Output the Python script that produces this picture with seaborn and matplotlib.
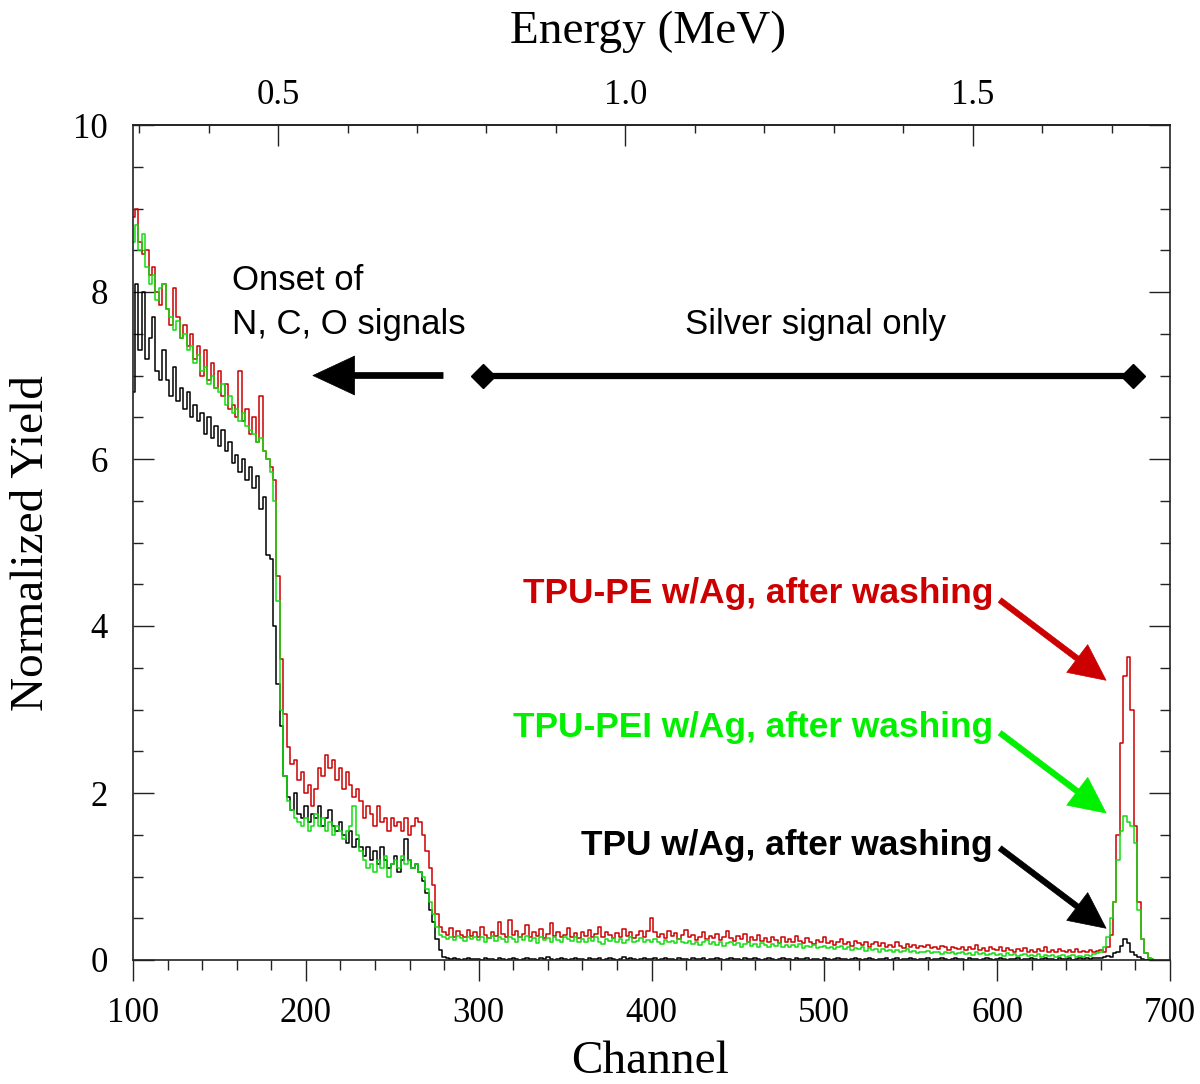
import numpy as np
import pandas as pd
import matplotlib
matplotlib.use("Agg")
import matplotlib.pyplot as plt
from matplotlib.ticker import MultipleLocator, FixedLocator, FixedFormatter
import seaborn as sns

# ---------------- data (channel step = 2) ----------------
channel_start = 100
channel_step = 2

tpu_pe = [  # red: TPU-PE w/Ag, after washing
    8.90, 9.00, 8.60, 8.45, 8.50, 8.20, 8.30, 8.00, 7.85, 8.10,   # 100-118
    7.80, 7.60, 8.05, 7.70, 7.45, 7.60, 7.35, 7.50, 7.20, 7.35,   # 120-138
    7.00, 7.30, 6.95, 7.15, 6.85, 7.05, 6.75, 6.90, 6.60, 6.65,   # 140-158
    6.50, 7.05, 6.45, 6.60, 6.30, 6.50, 6.20, 6.75, 6.10, 6.00,   # 160-178
    5.90, 5.75, 4.60, 3.60, 2.95, 2.55, 2.35, 2.40, 2.15, 2.25,   # 180-198
    2.00, 2.10, 1.85, 2.05, 2.30, 2.20, 2.45, 2.30, 2.40, 2.15,   # 200-218
    2.30, 2.05, 2.25, 2.10, 1.95, 2.05, 1.90, 1.70, 1.85, 1.75,   # 220-238
    1.60, 1.85, 1.65, 1.70, 1.55, 1.70, 1.60, 1.65, 1.55, 1.70,   # 240-258
    1.50, 1.60, 1.70, 1.65, 1.50, 1.30, 1.10, 0.90, 0.55, 0.40,   # 260-278
    0.33, 0.30, 0.38, 0.28, 0.35, 0.30, 0.27, 0.36, 0.29, 0.33,   # 280-298
    0.28, 0.40, 0.30, 0.26, 0.34, 0.29, 0.45, 0.31, 0.27, 0.48,   # 300-318
    0.30, 0.35, 0.27, 0.31, 0.42, 0.28, 0.33, 0.29, 0.37, 0.26,   # 320-338
    0.31, 0.44, 0.29, 0.34, 0.27, 0.30, 0.38, 0.28, 0.32, 0.26,   # 340-358
    0.33, 0.29, 0.36, 0.27, 0.31, 0.40, 0.28, 0.34, 0.30, 0.26,   # 360-378
    0.32, 0.28, 0.37, 0.29, 0.33, 0.26, 0.30, 0.35, 0.28, 0.35,   # 380-398
    0.50, 0.33, 0.27, 0.31, 0.26, 0.35, 0.29, 0.32, 0.25, 0.30,   # 400-418
    0.36, 0.27, 0.30, 0.24, 0.28, 0.33, 0.25, 0.29, 0.26, 0.31,   # 420-438
    0.24, 0.28, 0.35, 0.26, 0.23, 0.29, 0.25, 0.31, 0.22, 0.27,   # 440-458
    0.24, 0.30, 0.23, 0.26, 0.21, 0.28, 0.24, 0.20, 0.27, 0.22,   # 460-478
    0.25, 0.21, 0.29, 0.23, 0.20, 0.26, 0.22, 0.19, 0.24, 0.21,   # 480-498
    0.27, 0.20, 0.23, 0.18, 0.22, 0.25, 0.19, 0.21, 0.17, 0.23,   # 500-518
    0.20, 0.18, 0.22, 0.16, 0.19, 0.21, 0.17, 0.20, 0.15, 0.18,   # 520-538
    0.16, 0.21, 0.17, 0.14, 0.19, 0.16, 0.18, 0.14, 0.17, 0.15,   # 540-558
    0.18, 0.14, 0.16, 0.13, 0.17, 0.15, 0.12, 0.16, 0.14, 0.13,   # 560-578
    0.16, 0.12, 0.15, 0.13, 0.18, 0.12, 0.14, 0.11, 0.15, 0.13,   # 580-598
    0.12, 0.15, 0.11, 0.14, 0.12, 0.10, 0.13, 0.11, 0.14, 0.10,   # 600-618
    0.12, 0.10, 0.13, 0.11, 0.15, 0.10, 0.12, 0.09, 0.13, 0.11,   # 620-638
    0.10, 0.12, 0.09, 0.13, 0.10, 0.11, 0.09, 0.12, 0.10, 0.11,   # 640-658
    0.12, 0.10, 0.15, 0.30, 0.70, 1.50, 2.60, 3.40, 3.63, 3.00,   # 660-678
    1.60, 0.70, 0.25, 0.08, 0.02, 0.01,                           # 680-690
]

tpu_pei = [  # green: TPU-PEI w/Ag, after washing
    8.60, 8.80, 8.50, 8.70, 8.30, 8.10, 8.20, 7.90, 8.05, 8.10,   # 100-118
    7.80, 7.70, 7.55, 7.65, 7.45, 7.50, 7.30, 7.35, 7.15, 7.25,   # 120-138
    7.05, 7.10, 6.90, 7.00, 6.85, 6.80, 6.90, 6.65, 6.75, 6.55,   # 140-158
    6.60, 6.45, 6.55, 6.40, 6.35, 6.30, 6.20, 6.25, 6.10, 6.00,   # 160-178
    5.85, 5.50, 4.30, 3.00, 2.20, 1.90, 1.80, 1.70, 1.65, 1.60,   # 180-198
    1.70, 1.55, 1.60, 1.75, 1.60, 1.70, 1.55, 1.65, 1.50, 1.60,   # 200-218
    1.55, 1.45, 1.55, 1.60, 1.85, 1.50, 1.30, 1.20, 1.10, 1.15,   # 220-238
    1.05, 1.20, 1.10, 1.25, 1.00, 1.15, 1.20, 1.10, 1.25, 1.15,   # 240-258
    1.20, 1.10, 1.15, 1.05, 1.00, 0.85, 0.70, 0.55, 0.40, 0.30,   # 260-278
    0.28, 0.25, 0.27, 0.24, 0.29, 0.26, 0.23, 0.28, 0.25, 0.27,   # 280-298
    0.24, 0.28, 0.22, 0.26, 0.29, 0.23, 0.27, 0.25, 0.21, 0.28,   # 300-318
    0.25, 0.22, 0.27, 0.24, 0.29, 0.23, 0.26, 0.20, 0.27, 0.24,   # 320-338
    0.26, 0.22, 0.28, 0.24, 0.21, 0.27, 0.25, 0.23, 0.28, 0.22,   # 340-358
    0.25, 0.21, 0.26, 0.23, 0.27, 0.22, 0.19, 0.25, 0.23, 0.26,   # 360-378
    0.22, 0.25, 0.20, 0.24, 0.27, 0.21, 0.23, 0.26, 0.22, 0.24,   # 380-398
    0.21, 0.25, 0.22, 0.19, 0.24, 0.21, 0.23, 0.20, 0.25, 0.22,   # 400-418
    0.20, 0.23, 0.19, 0.22, 0.18, 0.21, 0.24, 0.19, 0.21, 0.18,   # 420-438
    0.21, 0.17, 0.20, 0.22, 0.18, 0.20, 0.16, 0.19, 0.21, 0.17,   # 440-458
    0.19, 0.16, 0.20, 0.18, 0.15, 0.19, 0.17, 0.20, 0.16, 0.18,   # 460-478
    0.15, 0.18, 0.16, 0.19, 0.14, 0.17, 0.15, 0.18, 0.14, 0.16,   # 480-498
    0.17, 0.14, 0.16, 0.13, 0.15, 0.17, 0.13, 0.15, 0.12, 0.14,   # 500-518
    0.13, 0.15, 0.11, 0.14, 0.12, 0.13, 0.10, 0.13, 0.11, 0.12,   # 520-538
    0.10, 0.12, 0.09, 0.11, 0.13, 0.10, 0.11, 0.08, 0.10, 0.09,   # 540-558
    0.11, 0.08, 0.10, 0.09, 0.07, 0.10, 0.08, 0.09, 0.07, 0.08,   # 560-578
    0.09, 0.07, 0.08, 0.06, 0.09, 0.07, 0.08, 0.06, 0.07, 0.08,   # 580-598
    0.06, 0.07, 0.05, 0.08, 0.06, 0.07, 0.05, 0.06, 0.07, 0.05,   # 600-618
    0.06, 0.05, 0.07, 0.04, 0.06, 0.05, 0.06, 0.04, 0.05, 0.06,   # 620-638
    0.04, 0.05, 0.06, 0.04, 0.05, 0.04, 0.06, 0.05, 0.07, 0.08,   # 640-658
    0.10, 0.15, 0.28, 0.50, 0.70, 1.20, 1.55, 1.72, 1.65, 1.60,   # 660-678
    1.40, 0.60, 0.25, 0.08, 0.02, 0.01,                           # 680-690
]

tpu = [  # black: TPU w/Ag, after washing
    6.80, 8.10, 7.30, 8.00, 7.20, 7.45, 7.70, 7.05, 6.95, 7.30,   # 100-118
    6.95, 6.75, 7.10, 6.70, 6.85, 6.60, 6.80, 6.50, 6.65, 6.45,   # 120-138
    6.55, 6.30, 6.50, 6.25, 6.40, 6.15, 6.35, 6.10, 6.20, 5.95,   # 140-158
    6.05, 5.85, 6.00, 5.75, 5.90, 5.65, 5.80, 5.40, 5.55, 4.85,   # 160-178
    4.80, 4.00, 3.30, 2.80, 2.20, 1.95, 1.80, 2.00, 1.75, 1.70,   # 180-198
    1.85, 1.65, 1.75, 1.70, 1.85, 1.60, 1.70, 1.80, 1.60, 1.55,   # 200-218
    1.65, 1.50, 1.40, 1.55, 1.35, 1.45, 1.35, 1.25, 1.35, 1.20,   # 220-238
    1.30, 1.15, 1.35, 1.20, 1.10, 1.15, 1.25, 1.05, 1.20, 1.45,   # 240-258
    1.20, 1.10, 1.15, 1.05, 0.95, 0.80, 0.60, 0.45, 0.25, 0.12,   # 260-278
    0.04, 0.02, 0.01, 0.02, 0.01, 0.00, 0.01, 0.02, 0.01, 0.01,   # 280-298
    0.01, 0.00, 0.02, 0.01, 0.01, 0.00, 0.02, 0.01, 0.00, 0.01,   # 300-318
    0.02, 0.01, 0.00, 0.01, 0.02, 0.01, 0.01, 0.00, 0.02, 0.01,   # 320-338
    0.03, 0.01, 0.00, 0.01, 0.02, 0.01, 0.00, 0.01, 0.02, 0.01,   # 340-358
    0.01, 0.00, 0.02, 0.01, 0.01, 0.02, 0.00, 0.01, 0.02, 0.01,   # 360-378
    0.00, 0.01, 0.03, 0.01, 0.02, 0.01, 0.00, 0.01, 0.02, 0.01,   # 380-398
    0.01, 0.02, 0.00, 0.01, 0.02, 0.01, 0.01, 0.00, 0.02, 0.01,   # 400-418
    0.01, 0.00, 0.02, 0.01, 0.01, 0.02, 0.00, 0.01, 0.01, 0.02,   # 420-438
    0.01, 0.00, 0.01, 0.02, 0.01, 0.01, 0.00, 0.02, 0.01, 0.01,   # 440-458
    0.02, 0.01, 0.00, 0.01, 0.02, 0.01, 0.00, 0.01, 0.02, 0.01,   # 460-478
    0.01, 0.00, 0.02, 0.01, 0.01, 0.02, 0.00, 0.01, 0.01, 0.00,   # 480-498
    0.02, 0.01, 0.00, 0.01, 0.02, 0.01, 0.01, 0.00, 0.01, 0.02,   # 500-518
    0.01, 0.00, 0.01, 0.02, 0.01, 0.00, 0.01, 0.01, 0.02, 0.00,   # 520-538
    0.01, 0.02, 0.00, 0.01, 0.01, 0.02, 0.01, 0.00, 0.01, 0.01,   # 540-558
    0.02, 0.00, 0.01, 0.01, 0.02, 0.01, 0.00, 0.01, 0.02, 0.01,   # 560-578
    0.01, 0.00, 0.02, 0.01, 0.01, 0.00, 0.01, 0.02, 0.01, 0.00,   # 580-598
    0.01, 0.02, 0.01, 0.00, 0.01, 0.01, 0.02, 0.00, 0.01, 0.01,   # 600-618
    0.02, 0.01, 0.00, 0.01, 0.02, 0.01, 0.01, 0.00, 0.02, 0.01,   # 620-638
    0.01, 0.02, 0.00, 0.01, 0.02, 0.01, 0.02, 0.01, 0.02, 0.02,   # 640-658
    0.02, 0.03, 0.05, 0.04, 0.08, 0.10, 0.17, 0.25, 0.20, 0.10,   # 660-678
    0.06, 0.03, 0.01, 0.00, 0.00, 0.00,                           # 680-690
]

series_names = ["TPU w/Ag, after washing", "TPU-PE w/Ag, after washing",
                "TPU-PEI w/Ag, after washing"]
series_values = [tpu, tpu_pe, tpu_pei]
series_colors = ["#000000", "#cc0000", "#11dd11"]
label_colors = ["#000000", "#cc0000", "#00f000"]

# energy calibration of the top axis (channel at 0.5 MeV, channels per MeV)
cal_channel_05 = 183.9
cal_channels_per_mev = 402.1

energy_major = [0.5, 1.0, 1.5]
energy_major_labels = ["0.5", "1.0", "1.5"]
energy_minor = [0.3, 0.4, 0.6, 0.7, 0.8, 0.9, 1.1, 1.2, 1.3, 1.4, 1.6, 1.7]

# ---------------- build long table ----------------
frames = []
for name, vals in zip(series_names, series_values):
    ch = channel_start + channel_step * np.arange(len(vals))
    frames.append(pd.DataFrame({"Channel": ch, "Yield": vals, "Sample": name}))
df = pd.concat(frames, ignore_index=True)

# ---------------- figure ----------------
sns.set_theme(style="ticks")
plt.rcParams["font.family"] = ["Liberation Serif", "DejaVu Serif"]
plt.rcParams["text.color"] = "black"
plt.rcParams["xtick.color"] = "#222222"
plt.rcParams["ytick.color"] = "#222222"
plt.rcParams["xtick.labelcolor"] = "black"
plt.rcParams["ytick.labelcolor"] = "black"
plt.rcParams["axes.labelcolor"] = "black"

fig = plt.figure(figsize=(12, 10.84), dpi=100)
ax = fig.add_axes([133 / 1200, 1 - 960 / 1084, 1037 / 1200, 835 / 1084])

sns.lineplot(data=df, x="Channel", y="Yield", hue="Sample",
             hue_order=series_names,
             palette=dict(zip(series_names, series_colors)),
             estimator=None, legend=False, drawstyle="steps-mid",
             linewidth=1.1, ax=ax)

ax.set_xlim(100, 700)
ax.set_ylim(0, 10)
ax.xaxis.set_major_locator(MultipleLocator(100))
ax.xaxis.set_minor_locator(MultipleLocator(20))
ax.yaxis.set_major_locator(MultipleLocator(2))
ax.yaxis.set_minor_locator(MultipleLocator(0.5))

for s in ax.spines.values():
    s.set_visible(True)
    s.set_linewidth(1.2)
    s.set_color("#222222")

tick_font = 25
ax.tick_params(axis="x", which="major", direction="out", length=15, width=1.0,
               top=False, labelsize=tick_font, pad=12)
ax.tick_params(axis="x", which="minor", direction="out", length=7, width=1.0,
               top=False)
ax.tick_params(axis="y", which="major", direction="in", length=15, width=1.0,
               left=True, right=True, labelsize=tick_font, pad=18)
ax.tick_params(axis="y", which="minor", direction="in", length=7, width=1.0,
               left=True, right=True)

ax.set_xlabel("Channel", fontsize=34, va="center", color="black")
ax.xaxis.set_label_coords((650 - 133) / 1037, (960 - 1062) / 835)
ax.set_ylabel("Normalized Yield", fontsize=34, va="center", ha="center",
              color="black")
ax.yaxis.set_label_coords((32 - 133) / 1037, (960 - 543) / 835)


def ch2e(c):
    return 0.5 + (np.asarray(c, dtype=float) - cal_channel_05) / cal_channels_per_mev


def e2ch(e):
    return cal_channel_05 + (np.asarray(e, dtype=float) - 0.5) * cal_channels_per_mev


secax = ax.secondary_xaxis("top", functions=(ch2e, e2ch))
secax.xaxis.set_major_locator(FixedLocator(energy_major))
secax.xaxis.set_major_formatter(FixedFormatter(energy_major_labels))
secax.xaxis.set_minor_locator(FixedLocator(energy_minor))
secax.tick_params(which="major", direction="in", length=15, width=1.0,
                  labelsize=tick_font, pad=9, labelcolor="black")
secax.tick_params(which="minor", direction="in", length=6, width=1.0)
secax.spines["top"].set_linewidth(1.2)
secax.spines["top"].set_color("#222222")
fig.text(648 / 1200, 1 - 32 / 1084, "Energy (MeV)", fontsize=34,
         ha="center", va="center", color="black")

# ---------------- annotations ----------------
sans = ["Liberation Sans", "DejaVu Sans"]
ax.text(157.3, 8.02, "Onset of", fontsize=25, family=sans, ha="left",
        va="baseline", color="black")
ax.text(157.3, 7.50, "N, C, O signals", fontsize=25, family=sans, ha="left",
        va="baseline", color="black")
ax.text(494.6, 7.50, "Silver signal only", fontsize=25, family=sans,
        ha="center", va="baseline", color="black")

ax.annotate("", xy=(204.1, 7.0), xytext=(279.4, 7.0),
            arrowprops=dict(arrowstyle="simple,head_length=1.5,head_width=1.4,tail_width=0.22",
                            mutation_scale=20, fc="black", ec="black", lw=0.5,
                            shrinkA=0, shrinkB=0))
ax.plot([302.5, 678.6], [7.0, 7.0], color="black", lw=4.5, marker="D",
        markersize=12.5, solid_capstyle="butt", zorder=5)

label_y = [1.26, 4.28, 2.67]
arrow_from = [(601.6, 1.34), (601.6, 4.31), (601.6, 2.72)]
arrow_to = [(663.0, 0.38), (663.0, 3.35), (663.0, 1.76)]
for name, col, ly, a0, a1 in zip(series_names, label_colors, label_y,
                                 arrow_from, arrow_to):
    ax.text(597.6, ly, name, fontsize=25.4, family=sans, fontweight="bold",
            color=col, ha="right", va="baseline")
    ax.annotate("", xy=a1, xytext=a0,
                arrowprops=dict(arrowstyle="simple,head_length=1.3,head_width=1.25,tail_width=0.2",
                                mutation_scale=20, fc=col, ec=col, lw=0.5,
                                shrinkA=0, shrinkB=0))

fig.savefig("out.png", dpi=100)
